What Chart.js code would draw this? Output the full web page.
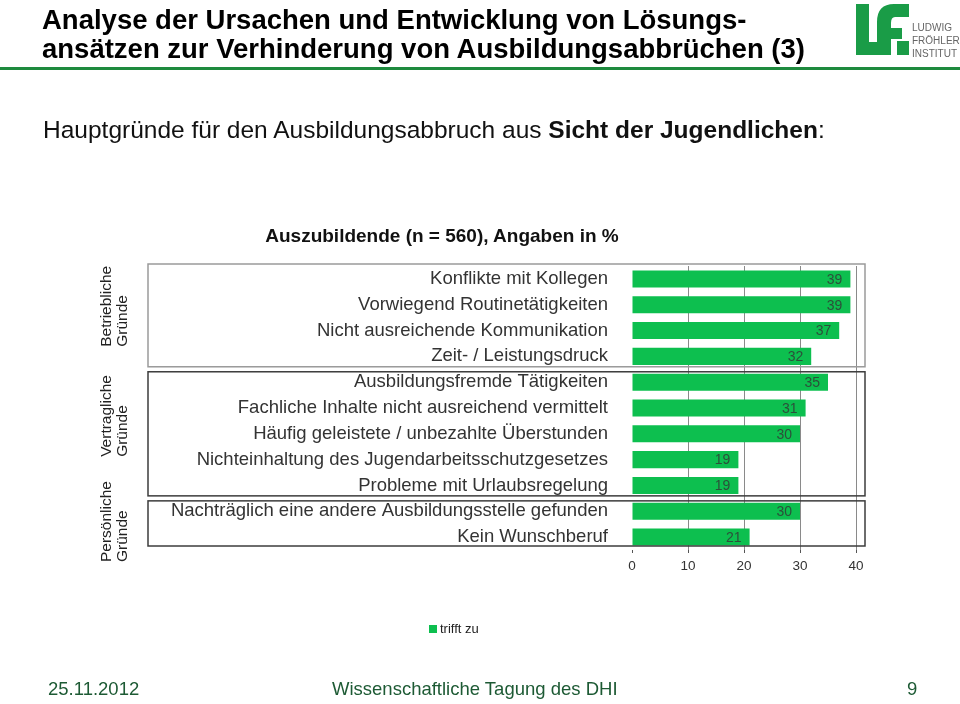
<!DOCTYPE html>
<html><head><meta charset="utf-8">
<script src="https://cdn.jsdelivr.net/npm/chart.js@4.4.0/dist/chart.umd.min.js"></script>
<style>
body{margin:0;width:960px;height:704px;overflow:hidden;background:#fff;font-family:"Liberation Sans",Arial,sans-serif;position:relative}
#c{position:absolute;left:0;top:0}
.t{position:absolute;white-space:nowrap;line-height:1}
.foot{color:#1d5a34;font-size:18.5px}
</style></head><body>
<canvas id="c" width="960" height="704"></canvas>
<div class="t" style="left:42px;top:5px;font-size:27.5px;font-weight:bold;line-height:29px;color:#000">Analyse der Ursachen und Entwicklung von Lösungs-<br>ansätzen zur Verhinderung von Ausbildungsabbrüchen (3)</div>
<div style="position:absolute;left:0;top:67px;width:960px;height:3px;background:#1e8a3e"></div>
<svg style="position:absolute;left:850px;top:0" width="110" height="64" viewBox="0 0 110 64">
  <path d="M6 4 h13 v38 h12 v13 h-25 z" fill="#1a9c47"/>
  <path d="M27 55 V22 Q27 4 44 4 H59 V17 H45 Q41 17 41 23 V28 H52 V39 H41 V55 z" fill="#1a9c47"/>
  <circle cx="54" cy="24" r="0" fill="#1a9c47"/>
  <rect x="47" y="41" width="12" height="14" fill="#1a9c47"/>
  <text x="62" y="31" font-size="10" fill="#666" font-family="Liberation Sans, Arial">LUDWIG</text>
  <text x="62" y="44" font-size="10" fill="#666" font-family="Liberation Sans, Arial">FRÖHLER</text>
  <text x="62" y="57" font-size="10" fill="#666" font-family="Liberation Sans, Arial">INSTITUT</text>
</svg>
<div class="t" style="left:43px;top:118px;font-size:24.5px;color:#111">Hauptgründe für den Ausbildungsabbruch aus <b>Sicht der Jugendlichen</b>:</div>
<div class="t" style="left:442px;top:226px;transform:translateX(-50%);font-size:19px;font-weight:bold;color:#111">Auszubildende (n = 560), Angaben in %</div>
<div class="t" style="left:429px;top:622px;font-size:13px;color:#222"><span style="display:inline-block;width:8px;height:8px;background:#0dbf4f;margin-right:3px;vertical-align:0px"></span><span id="lg"></span></div>
<div class="t foot" style="left:48px;top:680px">25.11.2012</div>
<div class="t foot" style="left:332px;top:680px">Wissenschaftliche Tagung des DHI</div>
<div class="t foot" style="left:907px;top:680px">9</div>
<script>
const categories = [
  "Konflikte mit Kollegen",
  "Vorwiegend Routinetätigkeiten",
  "Nicht ausreichende Kommunikation",
  "Zeit- / Leistungsdruck",
  "Ausbildungsfremde Tätigkeiten",
  "Fachliche Inhalte nicht ausreichend vermittelt",
  "Häufig geleistete / unbezahlte Überstunden",
  "Nichteinhaltung des Jugendarbeitsschutzgesetzes",
  "Probleme mit Urlaubsregelung",
  "Nachträglich eine andere Ausbildungsstelle gefunden",
  "Kein Wunschberuf"
];
const values = [39, 39, 37, 32, 35, 31, 30, 19, 19, 30, 21];
const seriesName = "trifft zu";
const xTicks = [0, 10, 20, 30, 40];
const groupNames = [["Betriebliche", "Gründe"], ["Vertragliche", "Gründe"], ["Persönliche", "Gründe"]];
const groupFirst = [0, 4, 9];
const groupLast = [3, 8, 10];

document.getElementById('lg').textContent = seriesName;

const groupPlugin = {
  id: 'groups',
  afterDatasetsDraw(chart, args, opts) {
    const ctx = chart.ctx, y = chart.scales.y, x = chart.scales.x, ca = chart.chartArea;
    const step = y.getPixelForValue(1) - y.getPixelForValue(0);
    const left = opts.left, right = x.getPixelForValue(40) + opts.rightExtra;
    const last = groupNames.length - 1;
    ctx.save();
    groupNames.forEach((g, gi) => {
      const top = y.getPixelForValue(groupFirst[gi]) - step / 2 + (gi === 0 ? -2 : opts.gap);
      const bottom = gi === last ? ca.bottom - opts.bottomInset : y.getPixelForValue(groupLast[gi]) + step / 2 - opts.gap;
      ctx.strokeStyle = opts.colors[gi];
      ctx.lineWidth = 1.5;
      ctx.strokeRect(left, top, right - left, bottom - top);
      const startY = bottom + opts.labelOffsets[gi];
      ctx.fillStyle = '#222';
      ctx.font = '15.5px "Liberation Sans", Arial, sans-serif';
      ctx.textAlign = 'left';
      ctx.textBaseline = 'middle';
      g.forEach((line, li) => {
        ctx.save();
        ctx.translate(opts.labelX[li], startY);
        ctx.rotate(-Math.PI / 2);
        ctx.fillText(line, 0, 0);
        ctx.restore();
      });
    });
    const meta = chart.getDatasetMeta(0);
    ctx.fillStyle = '#2c4f3a';
    ctx.font = '14px "Liberation Sans", Arial, sans-serif';
    ctx.textAlign = 'right';
    ctx.textBaseline = 'middle';
    meta.data.forEach((el, i) => {
      ctx.fillText(String(values[i]), el.x - 8, el.y + 1);
    });
    ctx.restore();
  }
};

new Chart(document.getElementById('c'), {
  type: 'bar',
  data: {
    labels: categories,
    datasets: [{ label: seriesName, data: values, backgroundColor: '#0dbf4f', barPercentage: 0.66, categoryPercentage: 1 }]
  },
  options: {
    indexAxis: 'y',
    responsive: false,
    animation: false,
    layout: { padding: { left: 0, right: 104, top: 266, bottom: 124 } },
    plugins: {
      legend: { display: false },
      tooltip: { enabled: false },
      groups: {
        left: 148, rightExtra: 9, gap: 2.5, bottomInset: 4,
        colors: ['#9a9a9a', '#3c3c3c', '#3c3c3c'],
        labelX: [107, 123],
        labelOffsets: [-20, -39, 16]
      }
    },
    scales: {
      x: {
        min: 0, max: 40,
        afterBuildTicks: s => { s.ticks = xTicks.map(v => ({ value: v })); },
        grid: {
          color: c => (c.tick && c.tick.value === 0) ? 'rgba(0,0,0,0)' : '#8a8a8a',
          tickColor: '#555', tickLength: 3, lineWidth: 1
        },
        border: { display: false },
        ticks: { color: '#333', font: { size: 13.5, family: '"Liberation Sans", Arial, sans-serif' }, padding: 5 },
        afterFit: s => { s.height = 30; }
      },
      y: {
        grid: { display: false },
        border: { display: false },
        ticks: { color: '#333', autoSkip: false, padding: 16, font: { size: 18.5, family: '"Liberation Sans", Arial, sans-serif' } },
        afterFit: s => { s.width = 632; }
      }
    }
  },
  plugins: [groupPlugin]
});
</script>
</body></html>
